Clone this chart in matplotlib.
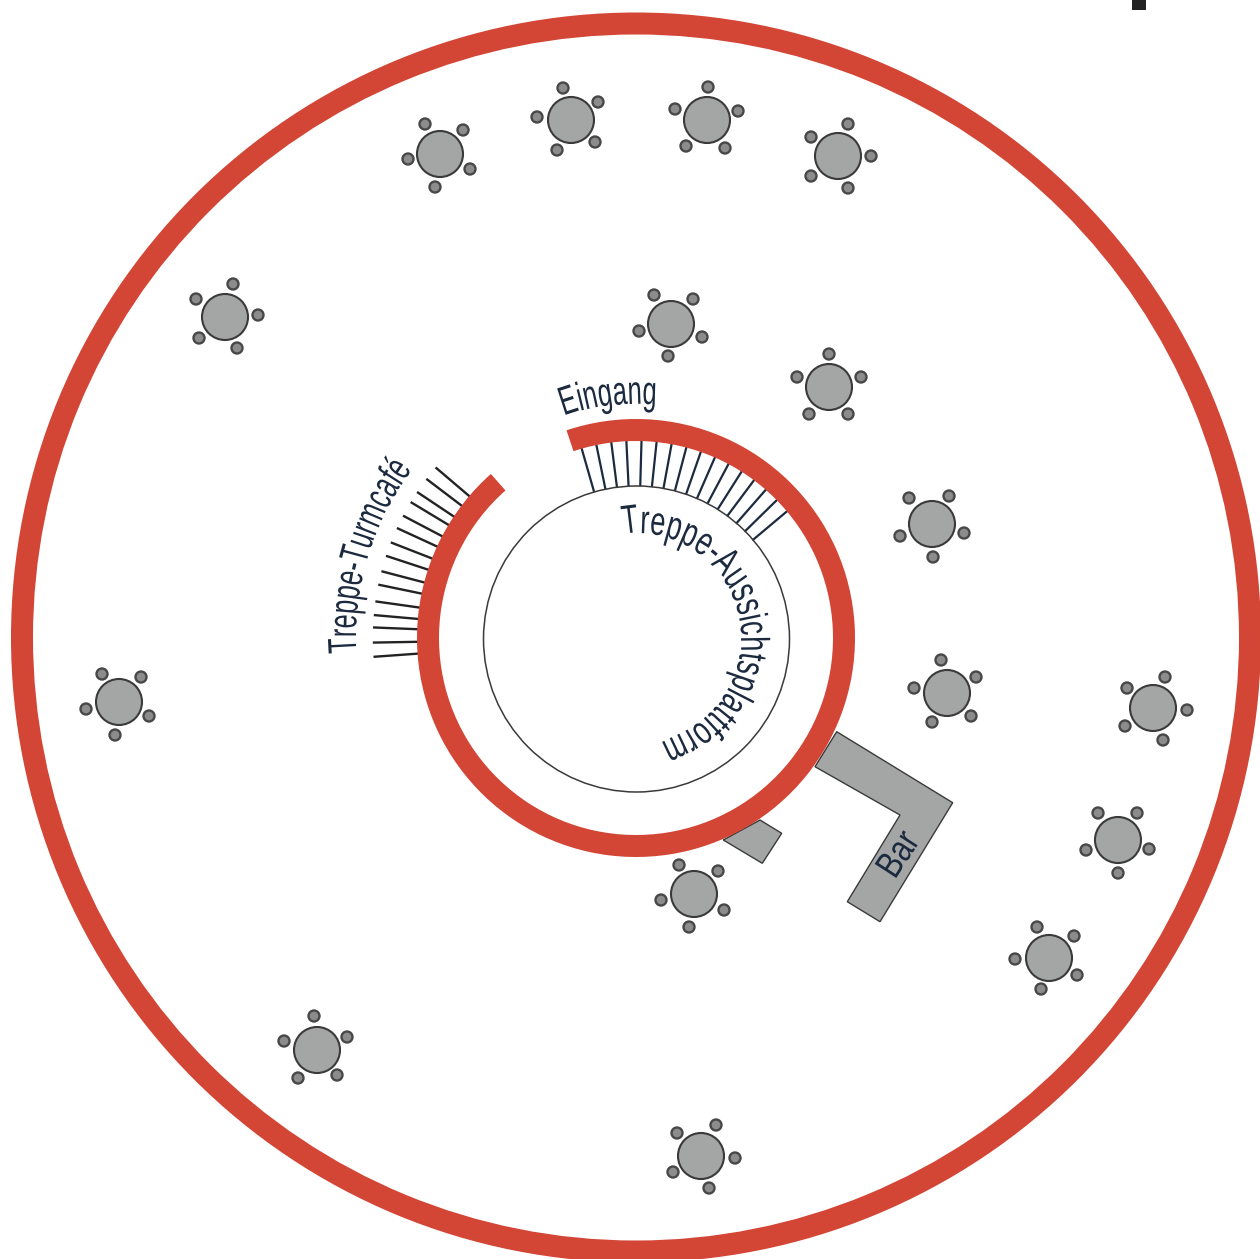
import numpy as np
import matplotlib
matplotlib.use('Agg')
import matplotlib.pyplot as plt
from matplotlib.patches import Circle, Wedge, Polygon
from matplotlib.patheffects import AbstractPathEffect
from matplotlib.textpath import text_to_path
from matplotlib.font_manager import FontProperties
from matplotlib.transforms import Affine2D

# everything is in image pixels, y downwards
RED = '#d34535'
GREY = '#a4a6a5'
DARK = '#3a3a3a'
INK = '#1c2a40'
FONT = ['Liberation Sans Narrow', 'Liberation Sans', 'DejaVu Sans']

table_x = [440, 571, 707, 838, 225, 671, 829, 932, 947, 1153, 1118, 1049, 694, 701, 317, 119]
table_y = [154, 120, 120, 156, 317, 324, 387, 524, 693, 708, 840, 958, 894, 1156, 1050, 702]
chairs = [
    [(425, 124), (463, 130), (470, 169), (435, 187), (408, 159)],
    [(563, 88), (598, 102), (595, 142), (557, 150), (537, 117)],
    [(708, 87), (738, 111), (725, 148), (686, 146), (675, 109)],
    [(848, 124), (871, 156), (848, 188), (811, 176), (811, 137)],
    [(233, 284), (258, 315), (237, 348), (199, 338), (196, 299)],
    [(654, 295), (693, 299), (702, 337), (668, 356), (639, 331)],
    [(829, 354), (861, 377), (848, 414), (809, 414), (797, 377)],
    [(949, 496), (964, 533), (933, 557), (900, 536), (909, 498)],
    [(941, 660), (976, 677), (971, 716), (932, 722), (914, 688)],
    [(1165, 677), (1187, 710), (1163, 740), (1125, 726), (1127, 688)],
    [(1137, 813), (1149, 849), (1118, 873), (1086, 850), (1098, 813)],
    [(1074, 936), (1077, 975), (1041, 989), (1015, 959), (1037, 927)],
    [(679, 865), (718, 871), (724, 910), (689, 927), (661, 900)],
    [(716, 1125), (735, 1158), (709, 1188), (673, 1172), (677, 1133)],
    [(314, 1016), (347, 1037), (337, 1075), (298, 1078), (284, 1041)],
    [(102, 674), (141, 677), (149, 716), (115, 735), (86, 709)],
]

# stair treads, angle in degrees on the flipped axes
stairs_up = [-106, -101.6, -97.2, -92.8, -88.4, -84, -79.6, -75.2, -70.8, -66.4,
             -62, -57.6, -53.2, -48.8, -44.4, -40]
stairs_cafe = [175.9, 179, 182.3, 185, 188, 191.7, 194.7, 198.2, 201.3, 204.7,
               207.7, 211.1, 213.7, 217.2, 220.4]

bar_long = [(836.7, 731.7), (952.7, 802.7), (880, 921.7), (847.3, 901.7), (900, 815), (815, 766.7)]
bar_short = [(760, 820), (781.7, 833.3), (762.3, 863.3), (723.3, 840)]


class Squeeze(AbstractPathEffect):
    # the reference face is very condensed, no installed font is that narrow
    def __init__(self, sx):
        super().__init__()
        self.sx = sx

    def draw_path(self, renderer, gc, tpath, affine, rgbFace=None):
        renderer.draw_path(gc, tpath, Affine2D().scale(self.sx, 1) + affine, rgbFace)


def char_width(ch, fp):
    w, h, d = text_to_path.get_text_width_height_descent(ch, fp, False)
    return w * 100 / 72


def curved(ax, s, cx, cy, r, a0, a1, size):
    fp = FontProperties(family=FONT, size=size)
    widths = [char_width(c, fp) for c in s]
    arc = np.radians(a1 - a0) * r
    sx = arc / sum(widths)
    pos = 0
    for c, w in zip(s, widths):
        a = np.radians(a0 + (a1 - a0) * pos / sum(widths))
        ax.text(cx + r * np.cos(a), cy + r * np.sin(a), c, family=FONT, fontsize=size, color=INK,
                rotation=-(np.degrees(a) + 90), rotation_mode='anchor', ha='left', va='baseline',
                path_effects=[Squeeze(sx)])
        pos += w


fig = plt.figure(figsize=(12.6, 12.59), dpi=100)
ax = fig.add_axes([0, 0, 1, 1])
ax.set_xlim(0, 1260)
ax.set_ylim(1259, 0)
ax.axis('off')

cx, cy = 636, 638

ax.add_patch(Polygon(bar_long, closed=True, fc=GREY, ec=DARK, lw=1, zorder=1))
ax.add_patch(Polygon(bar_short, closed=True, fc=GREY, ec=DARK, lw=1, zorder=1))

for a in np.radians(stairs_up):
    ax.plot([cx + 153 * np.cos(a), cx + 200 * np.cos(a)], [cy + 153 * np.sin(a), cy + 200 * np.sin(a)],
            color=INK, lw=1.6, zorder=2)
for a in np.radians(stairs_cafe):
    ax.plot([cx + 216 * np.cos(a), cx + 262 * np.cos(a)], [cy + 216 * np.sin(a), cy + 262 * np.sin(a)],
            color='#222222', lw=1.7, zorder=2)

ax.add_patch(Circle((cx + 0.5, cy + 1), 153, fill=False, ec=DARK, lw=1.1, zorder=2))
ax.add_patch(Wedge((cx, cy), 219, -108.5, 228.5, width=22, fc=RED, lw=0, zorder=3))
ax.add_patch(Wedge((cx, cy - 0.5), 625, 0, 360, width=22, fc=RED, lw=0, zorder=3))

for x, y, ch in zip(table_x, table_y, chairs):
    ax.add_patch(Circle((x, y), 23, fc=GREY, ec=DARK, lw=1.5, zorder=4))
    for c in ch:
        ax.add_patch(Circle(c, 5.5, fc='#8c8c8c', ec='#484848', lw=1.7, zorder=4))

curved(ax, 'Eingang', cx, cy, 234, -108, -85, 29)
curved(ax, 'Treppe-Turmcafé', cx, cy, 280, 177, 217, 29)
curved(ax, 'Treppe-Aussichtsplattform', cx, cy, 105, -97, 77, 29)

ax.text(895, 880, 'Bar', family=FONT, fontsize=27, color=INK, rotation=57, rotation_mode='anchor',
        ha='left', va='baseline', path_effects=[Squeeze(0.8)], zorder=5)

ax.add_patch(Polygon([(1132, 0), (1146, 0), (1146, 10), (1132, 10)], closed=True, fc='#222222', lw=0))

fig.savefig('out.png', dpi=100)
